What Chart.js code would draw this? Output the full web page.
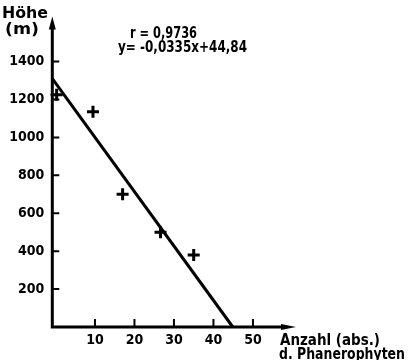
<!DOCTYPE html>
<html lang="de">
<head>
<meta charset="UTF-8">
<script src="https://cdn.jsdelivr.net/npm/chart.js"></script>
<title>Höhe / Phanerophyten</title>
<style>
  html, body { margin: 0; padding: 0; background: #fff; }
  #wrap { width: 408px; height: 360px; }
</style>
</head>
<body>
<div id="wrap"><canvas id="myChart" width="408" height="360"></canvas></div>
<script>
// values
const phanero = [0.3, 9.5, 17, 26.6, 35];      // Anzahl (abs.) d. Phanerophyten
const hoehe = [1225, 1135, 700, 500, 380];     // Höhe (m)
const fitX = [-0.8, 44.9];                     // regression line ends
const fitY = [1310, 0];
const xTicks = [10, 20, 30, 40, 50];
const yTicks = [200, 400, 600, 800, 1000, 1200, 1400];

const FONT = "'DejaVu Sans Condensed', sans-serif";

// text squeezed/stretched to the width it has in the figure
function fitText(ctx, txt, x, y, w) {
  const m = ctx.measureText(txt).width;
  ctx.save();
  ctx.translate(x, y);
  ctx.scale(w / m, 1);
  ctx.fillText(txt, 0, 0);
  ctx.restore();
}

// axis arrows, inner tick marks and texts
const decor = {
  id: 'decor',
  afterDraw(chart) {
    const { ctx, chartArea: a, scales: { x, y } } = chart;
    const x0 = a.left, y0 = a.bottom;
    ctx.save();
    ctx.strokeStyle = '#000';
    ctx.fillStyle = '#000';
    ctx.lineWidth = 3;
    // axes
    ctx.beginPath();
    ctx.moveTo(x0, y0 + 1.5);
    ctx.lineTo(x0, a.top + 8);
    ctx.moveTo(x0 - 1.5, y0);
    ctx.lineTo(a.right - 10, y0);
    ctx.stroke();
    // arrowheads
    ctx.beginPath();
    ctx.moveTo(x0, a.top);
    ctx.lineTo(x0 - 3.5, a.top + 13);
    ctx.lineTo(x0 + 3.5, a.top + 13);
    ctx.closePath();
    ctx.moveTo(a.right, y0);
    ctx.lineTo(a.right - 15, y0 - 3);
    ctx.lineTo(a.right - 15, y0 + 3);
    ctx.closePath();
    ctx.fill();
    // inner ticks
    ctx.lineWidth = 2;
    ctx.beginPath();
    yTicks.forEach(v => {
      const py = y.getPixelForValue(v);
      ctx.moveTo(x0, py);
      ctx.lineTo(x0 + 7, py);
    });
    xTicks.forEach(v => {
      const px = x.getPixelForValue(v);
      ctx.moveTo(px, y0);
      ctx.lineTo(px, y0 - 8);
    });
    ctx.stroke();
    // texts
    ctx.font = 'bold 15px ' + FONT;
    ctx.textBaseline = 'alphabetic';
    ctx.textAlign = 'left';
    fitText(ctx, 'Höhe', 2, 18, 46);
    fitText(ctx, '(m)', 5, 34, 34);
    fitText(ctx, 'r = 0,9736', 130, 38, 67);
    fitText(ctx, 'y= -0,0335x+44,84', 118, 52, 129);
    fitText(ctx, 'Anzahl (abs.)', 280, 345, 100);
    fitText(ctx, 'd. Phanerophyten', 279, 359, 126);
    ctx.restore();
  }
};

const ctx = document.getElementById('myChart').getContext('2d');
new Chart(ctx, {
  type: 'scatter',
  data: {
    datasets: [{
      type: 'line',
      data: fitX.map((v, i) => ({ x: v, y: fitY[i] })),
      borderColor: '#000',
      borderWidth: 3,
      pointRadius: 0,
      fill: false,
      clip: false
    }, {
      data: phanero.map((v, i) => ({ x: v, y: hoehe[i] })),
      pointStyle: 'cross',
      pointRadius: 6,
      pointBorderWidth: 3,
      borderColor: '#000',
      backgroundColor: '#000',
      clip: false
    }]
  },
  options: {
    responsive: false,
    animation: false,
    layout: { padding: { left: 0, top: 6, right: 112, bottom: 0 } },
    plugins: { legend: { display: false }, tooltip: { enabled: false } },
    scales: {
      x: {
        type: 'linear',
        min: -0.8,
        max: 60.9,
        afterBuildTicks: s => { s.ticks = xTicks.map(v => ({ value: v })); },
        afterFit: s => { s.height = 33; },
        grid: { display: false, drawTicks: false },
        border: { display: false },
        ticks: {
          color: '#000',
          font: { family: FONT, size: 14, weight: 'bold' },
          padding: 5,
          maxRotation: 0,
          autoSkip: false
        }
      },
      y: {
        min: 0,
        max: 1638,
        afterBuildTicks: s => { s.ticks = yTicks.map(v => ({ value: v })); },
        afterFit: s => { s.width = 52.3; },
        grid: { display: false, drawTicks: false },
        border: { display: false },
        ticks: {
          color: '#000',
          font: { family: FONT, size: 14, weight: 'bold' },
          padding: 8,
          autoSkip: false,
          callback: v => String(v)
        }
      }
    }
  },
  plugins: [decor]
});
</script>
</body>
</html>
